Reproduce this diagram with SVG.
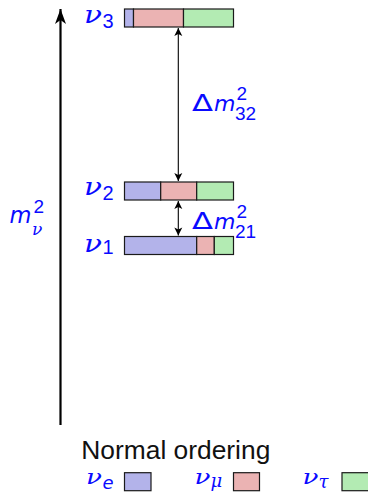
<svg xmlns="http://www.w3.org/2000/svg" width="368" height="492" viewBox="0 0 368 492">
<style>
.bar{stroke:#1a1a1a;stroke-width:1.2}
.be{fill:#b3b3ea}
.bm{fill:#ebb3b3}
.bt{fill:#b3ebb3}
.nu{font-family:"DejaVu Serif",serif;font-style:italic;fill:#0a0aff}
.num{font-family:"Liberation Sans",sans-serif;fill:#0a0aff}
.sans{font-family:"DejaVu Sans",sans-serif;fill:#0a0aff}
.it{font-style:italic}
.title{font-family:"Liberation Sans",sans-serif;fill:#111;font-size:25.5px}
.conn{stroke:#000;stroke-width:1.1;fill:none}
</style>
<defs>
<marker id="h" viewBox="-9 -5 10 10" refX="0" refY="0" markerWidth="10" markerHeight="10" markerUnits="userSpaceOnUse" orient="auto-start-reverse">
<path d="M0,0 L-8,-4 L-6,0 L-8,4 z" fill="#000"/>
</marker>
<marker id="hb" viewBox="-16 -7 17 14" refX="0" refY="0" markerWidth="17" markerHeight="14" markerUnits="userSpaceOnUse" orient="auto">
<path d="M0,0 L-15,-5.5 L-11,0 L-15,5.5 z" fill="#000"/>
</marker>
</defs>

<g id="axis">
<line x1="60.5" y1="425" x2="60.5" y2="9" stroke="#000" stroke-width="2.2" marker-end="url(#hb)"/>
<g id="axis-label">
<text class="sans it" x="9.5" y="223.3" font-size="22.5">m</text>
<text class="num" x="33.5" y="213.3" font-size="19">2</text>
<text class="nu" x="32" y="234.5" font-size="17">ν</text>
</g>
</g>

<g id="nu3">
<rect class="bar be" x="124.5" y="9" width="9" height="18"/>
<rect class="bar bm" x="133.5" y="9" width="50" height="18"/>
<rect class="bar bt" x="183.5" y="9" width="50" height="18"/>
<text class="nu" x="84" y="22.5" font-size="24" textLength="18" lengthAdjust="spacingAndGlyphs">ν</text>
<text class="num" x="102.5" y="27.7" font-size="20">3</text>
</g>

<g id="nu2">
<rect class="bar be" x="124.5" y="182" width="36.2" height="18"/>
<rect class="bar bm" x="160.7" y="182" width="36" height="18"/>
<rect class="bar bt" x="196.7" y="182" width="36.8" height="18"/>
<text class="nu" x="84" y="195" font-size="24" textLength="18" lengthAdjust="spacingAndGlyphs">ν</text>
<text class="num" x="102.5" y="199.5" font-size="20">2</text>
</g>

<g id="nu1">
<rect class="bar be" x="124.5" y="236.5" width="72.2" height="18"/>
<rect class="bar bm" x="196.7" y="236.5" width="17.6" height="18"/>
<rect class="bar bt" x="214.3" y="236.5" width="19.2" height="18"/>
<text class="nu" x="84" y="251.5" font-size="24" textLength="18" lengthAdjust="spacingAndGlyphs">ν</text>
<text class="num" x="102.5" y="254" font-size="20">1</text>
</g>

<g id="connectors">
<line class="conn" x1="178.3" y1="28" x2="178.3" y2="181" marker-start="url(#h)" marker-end="url(#h)"/>
<line class="conn" x1="178.3" y1="201" x2="178.3" y2="235.5" marker-start="url(#h)" marker-end="url(#h)"/>
</g>

<g id="dm32">
<text class="sans" x="192" y="111" font-size="23" textLength="21" lengthAdjust="spacingAndGlyphs">Δ</text>
<text class="sans it" x="214" y="111" font-size="22">m</text>
<text class="num" x="236.5" y="100" font-size="19">2</text>
<text class="num" x="235" y="120" font-size="19">32</text>
</g>

<g id="dm21">
<text class="sans" x="192" y="228.5" font-size="23" textLength="21" lengthAdjust="spacingAndGlyphs">Δ</text>
<text class="sans it" x="214" y="228.5" font-size="22">m</text>
<text class="num" x="236.5" y="217.5" font-size="19">2</text>
<text class="num" x="235" y="237.5" font-size="19">21</text>
</g>

<g id="legend">
<text class="title" x="81.3" y="459" textLength="189" lengthAdjust="spacingAndGlyphs">Normal ordering</text>
<g id="leg-e">
<text class="nu" x="86" y="484" font-size="20" textLength="16" lengthAdjust="spacingAndGlyphs">ν</text>
<text class="sans it" x="102.5" y="488.5" font-size="18">e</text>
<rect class="bar be" x="124.5" y="472.7" width="26.5" height="18"/>
</g>
<g id="leg-mu">
<text class="nu" x="194.5" y="484" font-size="20" textLength="16" lengthAdjust="spacingAndGlyphs">ν</text>
<text class="nu" x="210.5" y="487" font-size="18">μ</text>
<rect class="bar bm" x="233.5" y="472.7" width="26" height="18"/>
</g>
<g id="leg-tau">
<text class="nu" x="302.5" y="484" font-size="20" textLength="16" lengthAdjust="spacingAndGlyphs">ν</text>
<text class="nu" x="318.5" y="487.5" font-size="18">τ</text>
<rect class="bar bt" x="342" y="472.7" width="30" height="18"/>
</g>
</g>
</svg>
